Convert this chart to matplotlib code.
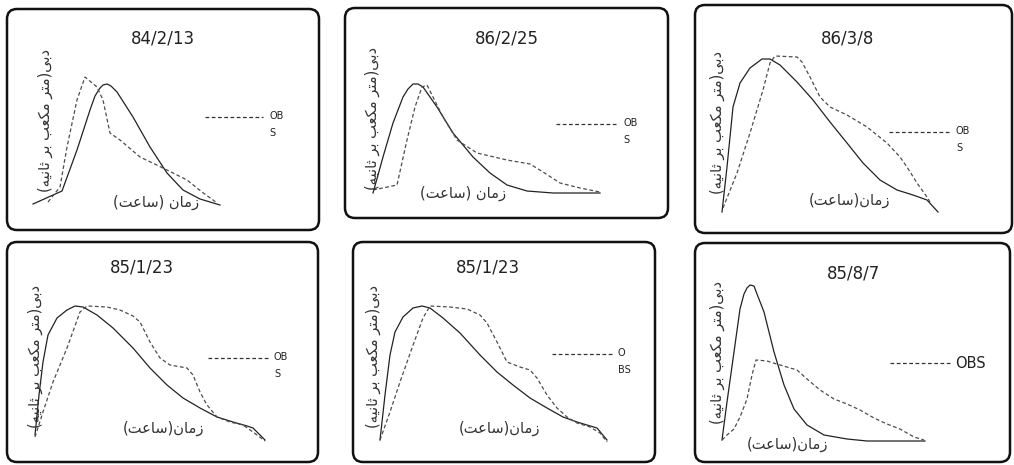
import numpy as np
import matplotlib
matplotlib.use('Agg')
import matplotlib.pyplot as plt
from matplotlib.patches import FancyBboxPatch

W, H = 1014, 465

titles = ['84/2/13', '86/2/25', '86/3/8', '85/1/23', '85/1/23', '85/8/7']

# simulated (solid) and observed (dashed) hydrographs, time vs discharge
p1_sim_t = [0, 29, 44, 57, 62, 67, 70, 74, 78, 84, 100, 117, 134, 150, 167,
            187]
p1_sim_q = [2, 15, 56, 96, 110, 118, 121, 122, 120, 114, 89, 59, 33, 16, 7, 1]
p1_obs_t = [15, 27, 34, 44, 52, 64, 70, 77, 87, 107, 130, 154, 169, 180, 184]
p1_obs_q = [4, 19, 59, 106, 129, 119, 106, 73, 66, 49, 38, 26, 14, 6, 3]

p2_sim_t = [0, 10, 20, 30, 35, 40, 45, 50, 64, 80, 100, 117, 134, 154, 180,
            227]
p2_sim_q = [0, 36, 70, 96, 104, 109, 109, 106, 86, 60, 36, 20, 8, 2, 0, 0]
p2_obs_t = [0, 24, 34, 42, 49, 54, 60, 70, 84, 104, 134, 157, 170, 187, 207,
            227]
p2_obs_q = [3, 8, 53, 86, 106, 108, 96, 76, 53, 40, 33, 29, 21, 10, 5, 1]

p3_sim_t = [0, 5, 11, 18, 28, 40, 48, 58, 75, 91, 108, 125, 141, 158, 175,
            191, 205, 216]
p3_sim_q = [0, 45, 105, 129, 144, 153, 153, 147, 130, 112, 90, 69, 49, 32,
            22, 17, 12, 0]
p3_obs_t = [1, 15, 28, 41, 48, 53, 75, 80, 88, 98, 108, 125, 145, 165, 178,
            185, 195, 205, 208]
p3_obs_q = [4, 39, 79, 122, 149, 156, 155, 150, 135, 115, 105, 97, 85, 69,
            55, 45, 29, 15, 10]

p4_sim_t = [0, 4, 8, 13, 22, 32, 40, 48, 62, 78, 98, 115, 132, 148, 165,
            182, 198, 212, 218, 225, 230]
p4_sim_q = [6, 46, 79, 106, 123, 131, 135, 134, 126, 113, 93, 73, 56, 43,
            33, 24, 19, 15, 13, 6, 1]
p4_obs_t = [0, 8, 18, 32, 45, 52, 72, 85, 98, 105, 115, 125, 135, 152, 158,
            165, 172, 182, 195, 208, 218, 230]
p4_obs_q = [4, 29, 59, 93, 129, 135, 134, 131, 125, 119, 99, 83, 76, 73, 66,
            49, 36, 24, 19, 16, 9, 0]

p5_sim_t = [0, 5, 10, 15, 23, 33, 42, 50, 63, 80, 100, 117, 133, 150, 167,
            183, 197, 207, 217, 227]
p5_sim_q = [0, 45, 85, 108, 123, 132, 134, 132, 122, 107, 85, 68, 55, 42,
            32, 23, 18, 15, 12, 0]
p5_obs_t = [0, 10, 20, 32, 43, 50, 70, 87, 100, 107, 117, 127, 140, 150, 157,
            167, 177, 187, 197, 210, 220, 227]
p5_obs_q = [0, 28, 58, 92, 122, 134, 133, 131, 125, 117, 98, 78, 73, 70, 62,
            45, 32, 23, 17, 13, 7, -2]

p6_sim_t = [0, 5, 12, 18, 22, 25, 28, 32, 35, 42, 52, 62, 72, 85, 102, 125,
            145, 203]
p6_sim_q = [1, 39, 89, 132, 147, 153, 156, 155, 147, 129, 89, 56, 32, 16, 6,
            2, 0, 0]
p6_obs_t = [0, 5, 12, 18, 25, 30, 34, 45, 58, 75, 85, 98, 112, 125, 138, 152,
            165, 178, 192, 202]
p6_obs_q = [1, 6, 12, 24, 42, 66, 81, 80, 76, 71, 62, 51, 42, 37, 31, 23,
            17, 12, 4, 1]

sim_t = [p1_sim_t, p2_sim_t, p3_sim_t, p4_sim_t, p5_sim_t, p6_sim_t]
sim_q = [p1_sim_q, p2_sim_q, p3_sim_q, p4_sim_q, p5_sim_q, p6_sim_q]
obs_t = [p1_obs_t, p2_obs_t, p3_obs_t, p4_obs_t, p5_obs_t, p6_obs_t]
obs_q = [p1_obs_q, p2_obs_q, p3_obs_q, p4_obs_q, p5_obs_q, p6_obs_q]

legend_txt = ['OB\nS', 'OB\nS', 'OB\nS', 'OB\nS', 'O\nBS', 'OBS']

# layout in pixels: box (left, top, right, bottom), curve origin (x0, y0)
boxes = [(7, 9, 319, 230), (345, 8, 668, 218), (695, 5, 1012, 233),
         (7, 242, 318, 462), (353, 242, 655, 462), (695, 243, 1010, 462)]
origins = [(33, 206), (373, 193), (722, 212), (35, 441), (380, 440),
           (722, 441)]
title_xy = [(163, 38), (507, 38), (848, 38), (142, 267), (488, 267),
            (853, 273)]
ylab_xy = [(45, 120), (372, 118), (717, 123), (35, 357), (373, 357),
           (717, 352)]
xlab_xy = [(156, 202), (463, 193), (850, 200), (163, 428), (500, 428),
           (787, 444)]
leg_xy = [(205, 263, 117), (556, 617, 124), (889, 950, 132),
          (208, 268, 358), (552, 612, 354), (890, 950, 363)]

# Persian labels, pre-shaped in visual order (matplotlib has no bidi)
YLAB = '(\ufeea\ufef4\ufee7\ufe8e\ufe9b \ufeae\ufe91 \ufe90\ufecc\ufedc\ufee3 \ufeae\ufe98\ufee3)\ufef0\ufe91\ufea9'
XLAB_SP = '(\ufe96\ufecb\ufe8e\ufeb3) \ufee5\ufe8e\ufee3\ufeaf'
XLAB = '(\ufe96\ufecb\ufe8e\ufeb3)\ufee5\ufe8e\ufee3\ufeaf'

plt.rcParams['font.family'] = ['DejaVu Sans']

fig = plt.figure(figsize=(W / 100, H / 100), dpi=100)
fig.patch.set_facecolor('white')


def fx(px):
    return px / W


def fy(py):
    return 1 - py / H


for i in range(6):
    L, T, R, B = boxes[i]
    x0, y0 = origins[i]
    box = FancyBboxPatch((L / 100 + 0.1, (H - B) / 100 + 0.1),
                         (R - L) / 100 - 0.2, (B - T) / 100 - 0.2,
                         boxstyle='round,pad=0.1', transform=fig.dpi_scale_trans,
                         facecolor='white', edgecolor='#111111', lw=1.8,
                         zorder=-5)
    fig.add_artist(box)

    ax = fig.add_axes([fx(L), fy(B), (R - L) / W, (B - T) / H])
    ax.set_zorder(2)
    ax.set_xlim(L - x0, R - x0)
    ax.set_ylim(y0 - B, y0 - T)
    ax.axis('off')
    ax.plot(sim_t[i], sim_q[i], color='#222222', lw=0.9)
    ax.plot(obs_t[i], obs_q[i], color='#4d4d4d', lw=0.9, ls=(0, (3, 2)))

    # legend line + label
    la, lb, ly = leg_xy[i]
    ax.plot([la - x0, lb - x0], [y0 - ly, y0 - ly], color='#333333', lw=0.9,
            ls=(0, (3, 2)))
    if i == 5:
        fig.text(fx(lb + 5), fy(ly), legend_txt[i], fontsize=10.5,
                 ha='left', va='center', color='#222222')
    else:
        fig.text(fx(lb + 6), fy(ly - 6), legend_txt[i], fontsize=7,
                 ha='left', va='top', color='#222222', linespacing=1.9)

    fig.text(fx(title_xy[i][0]), fy(title_xy[i][1]), titles[i], fontsize=12,
             ha='center', va='center', color='#222222')
    fig.text(fx(ylab_xy[i][0]), fy(ylab_xy[i][1]), YLAB, fontsize=10.5,
             rotation=90, ha='center', va='center', color='#333333')
    fig.text(fx(xlab_xy[i][0]), fy(xlab_xy[i][1]),
             XLAB_SP if i < 2 else XLAB, fontsize=10.5,
             ha='center', va='center', color='#333333')

fig.savefig('out.png', dpi=100)
